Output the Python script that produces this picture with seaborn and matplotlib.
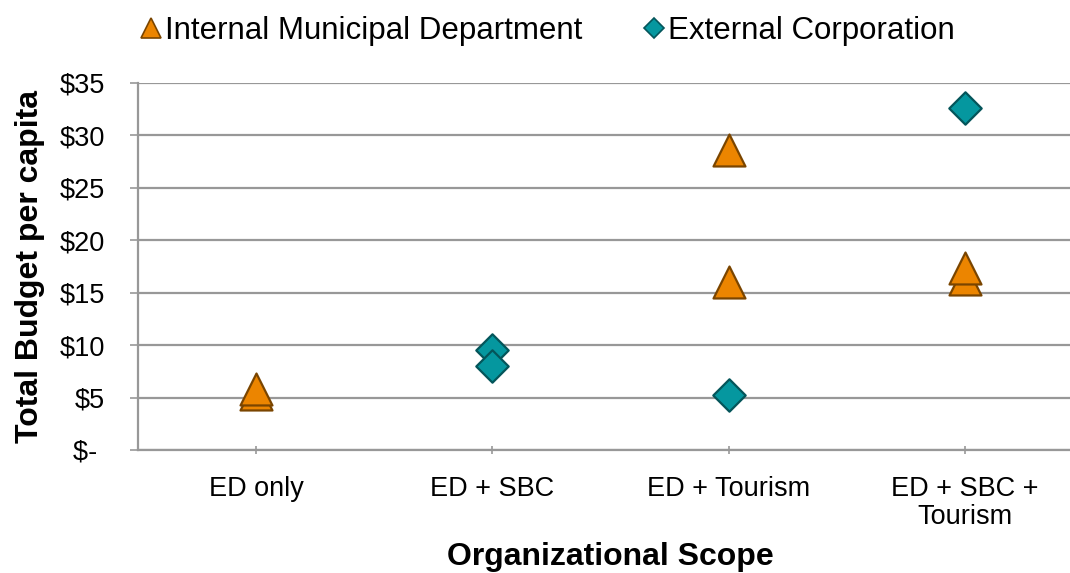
import matplotlib
matplotlib.use("Agg")
import matplotlib.pyplot as plt
from matplotlib.lines import Line2D
from matplotlib.ticker import FuncFormatter
import pandas as pd
import seaborn as sns

# Organizational scope categories (x axis)
categories = ["ED only", "ED + SBC", "ED + Tourism", "ED + SBC +\nTourism"]

# Internal municipal departments: scope and total budget per capita ($)
internal_scope = ["ED only", "ED only", "ED + Tourism", "ED + Tourism",
                  "ED + SBC +\nTourism", "ED + SBC +\nTourism"]
internal_budget = [5.3, 5.8, 28.6, 16.0, 16.3, 17.4]

# External corporations: scope and total budget per capita ($)
external_scope = ["ED + SBC", "ED + SBC", "ED + Tourism", "ED + SBC +\nTourism"]
external_budget = [9.5, 8.0, 5.2, 32.6]

series_names = ["Internal Municipal Department", "External Corporation"]
y_ticks = [0, 5, 10, 15, 20, 25, 30, 35]

orange, orange_edge = "#EC8500", "#7A4500"
teal, teal_edge = "#05979F", "#04555A"
grid_grey = "#989898"

sns.set_theme(style="white")
plt.rcParams["font.family"] = ["Liberation Sans", "DejaVu Sans"]
plt.rcParams["text.color"] = "black"
plt.rcParams["axes.labelcolor"] = "black"
plt.rcParams["xtick.color"] = "black"
plt.rcParams["ytick.color"] = "black"

internal = pd.DataFrame({"pos": [categories.index(s) for s in internal_scope],
                         "budget": internal_budget})
external = pd.DataFrame({"pos": [categories.index(s) for s in external_scope],
                         "budget": external_budget})

fig = plt.figure(figsize=(10.7, 5.73), dpi=100)
ax = fig.add_axes([138 / 1070, 123 / 573, 1 - 138 / 1070, 367 / 573])

sns.scatterplot(data=internal, x="pos", y="budget", ax=ax, marker="^",
                s=23 ** 2, color=orange, edgecolor=orange_edge, linewidth=1.6,
                zorder=3, legend=False)
sns.scatterplot(data=external, x="pos", y="budget", ax=ax, marker="D",
                s=16.5 ** 2, color=teal, edgecolor=teal_edge, linewidth=1.6,
                zorder=3, legend=False)

ax.set_xlim(-0.5, 3 + (1070 - 965) / 236)
ax.set_ylim(0, 35)
ax.set_xticks(range(len(categories)))
ax.set_xticklabels(categories, fontsize=19.5, linespacing=1.1)
ax.set_yticks(y_ticks)
ax.yaxis.set_major_formatter(FuncFormatter(lambda v, p: "$- " if v == 0 else f"${v:.0f}"))
ax.tick_params(axis="y", labelsize=19.5, direction="out", length=6, width=1.2,
               color=grid_grey, labelcolor="black", pad=18, left=True)
ax.tick_params(axis="x", direction="inout", length=6, width=1.2,
               color=grid_grey, labelcolor="black", pad=16, bottom=True)

ax.grid(axis="y", color=grid_grey, linewidth=1.6, zorder=0)
ax.grid(axis="x", visible=False)
for side in ["top", "right"]:
    ax.spines[side].set_visible(False)
for side in ["left", "bottom"]:
    ax.spines[side].set_color(grid_grey)
    ax.spines[side].set_linewidth(1.6)

ax.set_xlabel("Organizational Scope", fontsize=23, fontweight="bold")
ax.xaxis.set_label_coords((610 - 138) / (1070 - 138), -0.252)
ax.set_ylabel("Total Budget per capita", fontsize=23, fontweight="bold")
ax.yaxis.set_label_coords(-0.0998, 0.5)

handles = [
    Line2D([], [], linestyle="none", marker="^", markersize=14.5,
           markerfacecolor=orange, markeredgecolor=orange_edge, markeredgewidth=1.2),
    Line2D([], [], linestyle="none", marker="D", markersize=10,
           markerfacecolor=teal, markeredgecolor=teal_edge, markeredgewidth=1.2),
]
fig.legend(handles, series_names, loc="center", bbox_to_anchor=(548 / 1070, 1 - 31 / 573),
           ncol=2, frameon=False, fontsize=22.5, handlelength=0.6, handletextpad=0.15,
           columnspacing=2.0, borderpad=0, borderaxespad=0)

fig.savefig("out.png", dpi=100)
